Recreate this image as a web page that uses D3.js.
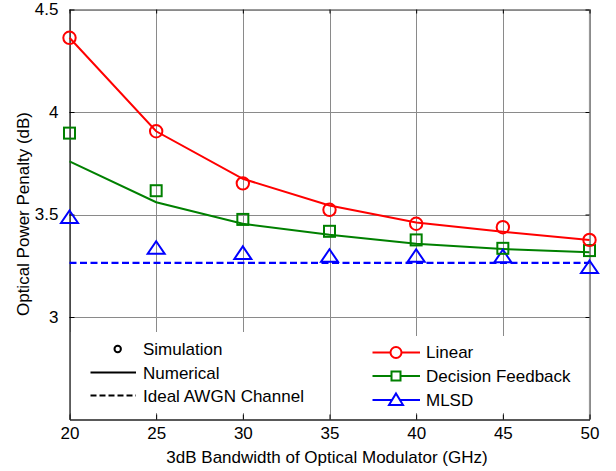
<!DOCTYPE html>
<html><head><meta charset="utf-8">
<script src="https://cdn.jsdelivr.net/npm/d3@7"></script>
<style>body{margin:0;background:#fff}svg{display:block}text{font-family:"Liberation Sans",Arial,sans-serif;fill:#000}</style>
</head><body>
<svg id="c" width="616" height="471"></svg>
<script>
const bandwidth = [20, 25, 30, 35, 40, 45, 50];
const linearSim = [4.362, 3.906, 3.652, 3.523, 3.455, 3.438, 3.376];
const linearNum = [4.362, 3.906, 3.674, 3.544, 3.461, 3.416, 3.376];
const dfSim = [3.897, 3.616, 3.476, 3.418, 3.376, 3.335, 3.324];
const dfNum = [3.759, 3.560, 3.455, 3.401, 3.357, 3.332, 3.316];
const mlsdSim = [3.489, 3.339, 3.314, 3.300, 3.300, 3.298, 3.245];
const awgnLevel = [3.264, 3.264, 3.264, 3.264, 3.264, 3.264, 3.264];
const xTicks = [20, 25, 30, 35, 40, 45, 50];
const yTicks = [3, 3.5, 4, 4.5];
const yTickLabels = ["3", "3.5", "4", "4.5"];

const svg = d3.select("#c");
const L = 69.5, R = 589.5, T = 9.5, B = 419.5;
const x = d3.scaleLinear().domain([20, 50]).range([L, R]);
const y = d3.scaleLinear().domain([2.5, 4.5]).range([B, T]);
const FS = 17;

// grid
const grid = svg.append("g");
grid.selectAll(".gx").data(xTicks).join("line")
  .attr("x1", d => Math.round(x(d)) + 0.5).attr("x2", d => Math.round(x(d)) + 0.5)
  .attr("y1", T).attr("y2", B).attr("stroke", "#8a8a8a").attr("stroke-width", 1);
grid.selectAll(".gy").data(yTicks).join("line")
  .attr("y1", d => Math.round(y(d)) + 0.5).attr("y2", d => Math.round(y(d)) + 0.5)
  .attr("x1", L).attr("x2", R).attr("stroke", "#8a8a8a").attr("stroke-width", 1);

// legend backgrounds (cover grid)
svg.append("rect").attr("x", L + 1).attr("y", 332).attr("width", 248).attr("height", 81).attr("fill", "#fff");
svg.append("rect").attr("x", 342).attr("y", 336).attr("width", R - 343).attr("height", 77).attr("fill", "#fff");

// box top/right
svg.append("line").attr("x1", L).attr("x2", R).attr("y1", T).attr("y2", T).attr("stroke", "#999").attr("stroke-width", 1.2);
svg.append("line").attr("x1", R).attr("x2", R).attr("y1", T).attr("y2", B).attr("stroke", "#999").attr("stroke-width", 1.2);

// axes
const xAxB = d3.axisBottom(x).tickValues(xTicks).tickSizeInner(-5).tickSizeOuter(0).tickPadding(10).tickFormat(d3.format("d"));
const gxb = svg.append("g").attr("transform", `translate(0,${B})`).call(xAxB);
gxb.select(".domain").attr("stroke", "#222").attr("stroke-width", 1.3);
gxb.selectAll(".tick line").attr("stroke", "#000");
gxb.selectAll("text").attr("font-size", FS).attr("font-family", "Liberation Sans, Arial, sans-serif").attr("fill", "#000").attr("dy", "0.55em");

const gxt = svg.append("g").attr("transform", `translate(0,${T})`).call(d3.axisTop(x).tickValues(xTicks).tickSizeInner(-4).tickSizeOuter(0).tickFormat(""));
gxt.select(".domain").remove();
gxt.selectAll(".tick line").attr("stroke", "#000");

const yAxL = d3.axisLeft(y).tickValues(yTicks).tickSizeInner(-5).tickSizeOuter(0).tickPadding(11).tickFormat((d, i) => yTickLabels[i]);
const gyl = svg.append("g").attr("transform", `translate(${L},0)`).call(yAxL);
gyl.select(".domain").attr("stroke", "#222").attr("stroke-width", 1.3);
gyl.selectAll(".tick line").attr("stroke", "#000");
gyl.selectAll("text").attr("font-size", FS).attr("font-family", "Liberation Sans, Arial, sans-serif").attr("fill", "#000");

const gyr = svg.append("g").attr("transform", `translate(${R},0)`).call(d3.axisRight(y).tickValues(yTicks).tickSizeInner(-4).tickSizeOuter(0).tickFormat(""));
gyr.select(".domain").remove();
gyr.selectAll(".tick line").attr("stroke", "#000");

// axis labels
svg.append("text").attr("x", 327).attr("y", 462.5).attr("text-anchor", "middle").attr("font-size", FS)
  .text("3dB Bandwidth of Optical Modulator (GHz)");
svg.append("text").attr("transform", "translate(29,214) rotate(-90)").attr("text-anchor", "middle").attr("font-size", FS)
  .text("Optical Power Penalty (dB)");

// data
const line = d3.line().x((d, i) => x(bandwidth[i])).y(d => y(d));
const plot = svg.append("g");
plot.append("path").datum(awgnLevel).attr("d", line).attr("fill", "none").attr("stroke", "#0000ff").attr("stroke-width", 2.2).attr("stroke-dasharray", "7,3.5");
plot.append("path").datum(dfNum).attr("d", line).attr("fill", "none").attr("stroke", "#008000").attr("stroke-width", 2);
plot.append("path").datum(linearNum).attr("d", line).attr("fill", "none").attr("stroke", "#ff0000").attr("stroke-width", 2);

function circle(g, cx, cy, r, col) {
  g.append("circle").attr("cx", cx).attr("cy", cy).attr("r", r).attr("fill", "none").attr("stroke", col).attr("stroke-width", 2);
}
function square(g, cx, cy, s, col) {
  g.append("rect").attr("x", cx - s / 2).attr("y", cy - s / 2).attr("width", s).attr("height", s).attr("fill", "none").attr("stroke", col).attr("stroke-width", 2);
}
function tri(g, cx, cy, w, h, col) {
  g.append("path").attr("d", `M${cx},${cy - h / 2}L${cx + w / 2},${cy + h / 2}L${cx - w / 2},${cy + h / 2}Z`)
    .attr("fill", "none").attr("stroke", col).attr("stroke-width", 2).attr("stroke-linejoin", "miter");
}
mlsdSim.forEach((v, i) => tri(plot, x(bandwidth[i]), y(v), 17, 12.5, "#0000ff"));
dfSim.forEach((v, i) => square(plot, x(bandwidth[i]), y(v), 11, "#008000"));
linearSim.forEach((v, i) => circle(plot, x(bandwidth[i]), y(v), 6.2, "#ff0000"));

// left legend
const lg = svg.append("g");
circle(lg, 117.7, 349, 3.2, "#000");
lg.append("text").attr("x", 143).attr("y", 349).attr("dy", "0.35em").attr("font-size", FS).text("Simulation");
lg.append("line").attr("x1", 90.5).attr("x2", 136).attr("y1", 372.5).attr("y2", 372.5).attr("stroke", "#000").attr("stroke-width", 2);
lg.append("text").attr("x", 143).attr("y", 373).attr("dy", "0.35em").attr("font-size", FS).text("Numerical");
lg.append("line").attr("x1", 90.5).attr("x2", 136).attr("y1", 395.5).attr("y2", 395.5).attr("stroke", "#000").attr("stroke-width", 2).attr("stroke-dasharray", "6,3");
lg.append("text").attr("x", 143).attr("y", 396).attr("dy", "0.35em").attr("font-size", FS).text("Ideal AWGN Channel");

// right legend
const rg = svg.append("g");
const items = [["Linear", "#ff0000", 352.5], ["Decision Feedback", "#008000", 376], ["MLSD", "#0000ff", 400]];
items.forEach(([name, col, yy], k) => {
  rg.append("line").attr("x1", 372.5).attr("x2", 420).attr("y1", yy).attr("y2", yy).attr("stroke", col).attr("stroke-width", 2);
  if (k === 0) { rg.append("circle").attr("cx", 396).attr("cy", yy).attr("r", 5.5).attr("fill", "#fff").attr("stroke", col).attr("stroke-width", 2); }
  if (k === 1) { rg.append("rect").attr("x", 396 - 4.5).attr("y", yy - 4.5).attr("width", 9).attr("height", 9).attr("fill", "#fff").attr("stroke", col).attr("stroke-width", 2); }
  if (k === 2) { rg.append("path").attr("d", `M396,${yy - 6.5}L403,${yy + 5}L389,${yy + 5}Z`).attr("fill", "#fff").attr("stroke", col).attr("stroke-width", 2); }
  rg.append("text").attr("x", 426).attr("y", yy).attr("dy", "0.35em").attr("font-size", FS).text(name);
});
</script>
</body></html>
